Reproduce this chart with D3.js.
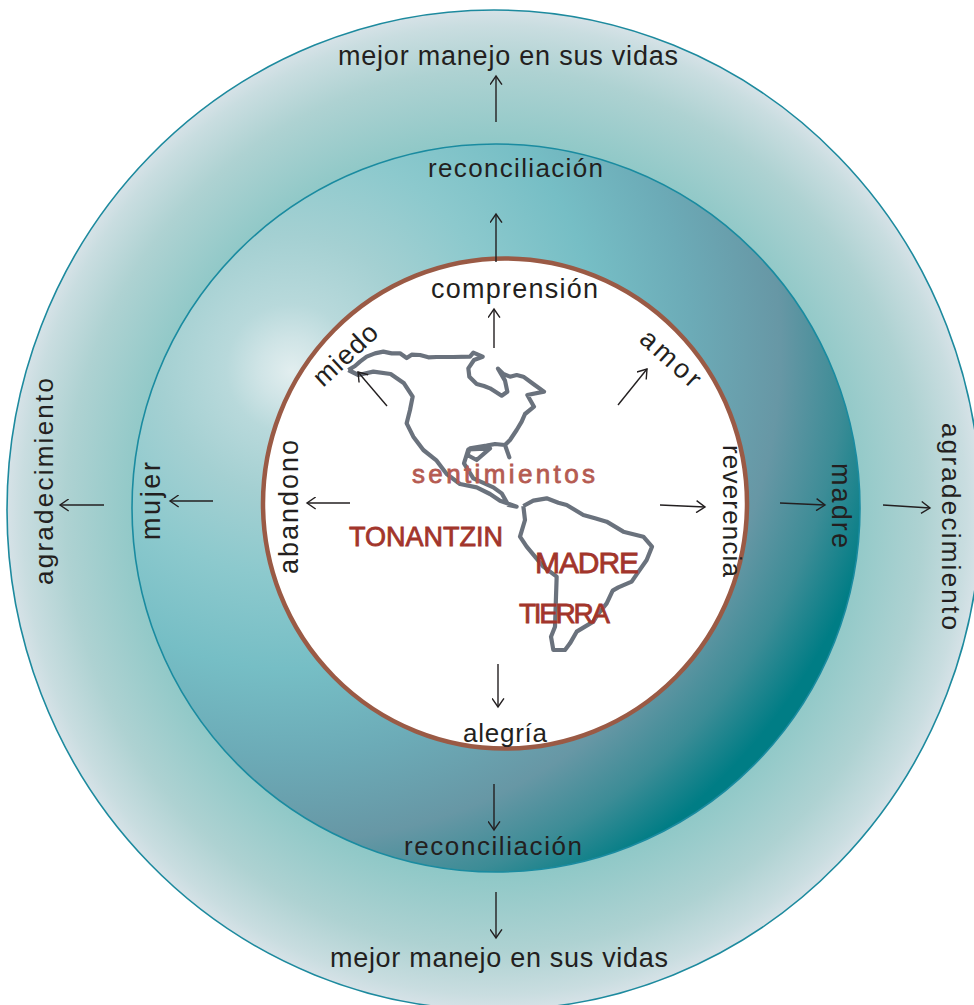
<!DOCTYPE html>
<html><head><meta charset="utf-8">
<script src="https://cdnjs.cloudflare.com/ajax/libs/d3/7.8.5/d3.min.js"></script>
<style>html,body{margin:0;padding:0;background:#fff;overflow:hidden}svg{display:block}text{font-family:"Liberation Sans",Arial,sans-serif}</style>
</head><body>
<script>
// [text, x, y, rotation, length, size]  (x,y = baseline start)
const blackLabels = [
 ["mejor manejo en sus vidas",338,65,0,340,27],
 ["reconciliación",428,177,0,175,26],
 ["comprensión",431,298,0,167,27],
 ["alegría",463,742,0,84,26],
 ["reconciliación",404,855,0,178,26],
 ["mejor manejo en sus vidas",330,967,0,338,27],
 ["agradecimiento",53,585,-90,207,26],
 ["mujer",160,540,-90,78,27],
 ["abandono",298,574,-90,134,27],
 ["madre",832,463,90,85,27],
 ["agradecimiento",942,423,90,207,26],
 ["reverencia",723,445,90,132,26],
 ["amor",638,341,42,72,27],
 ["miedo",323,388,-43,78,27]
];
const redLabels = [
 ["sentimientos",412,483,183,26,"#b55b52"],
 ["TONANTZIN",349,546,154,27,"#a2352b"],
 ["MADRE",535,573,104,30,"#a2352b"],
 ["TIERRA",519,623,91,28,"#a2352b"]
];
const arrows = [
 [496,122,496,76],[496,262,496,214],[494,348,494,309],[618,405,647,369],[387,406,358,372],
 [350,503,307,503],[213,501,170,501],[104,505,60,505],[660,505,705,507],[780,503,825,505],
 [883,505,930,508],[498,664,498,707],[494,784,494,830],[496,892,496,938]
];
const northAmerica = [[265,330],[285,318],[300,305],[320,290],[345,280],[370,275],[395,280],[420,280],[440,294],[455,284],[480,285],[505,292],[530,291],[580,291],[630,290],[640,278],[668,290],[642,300],[625,325],[628,350],[650,372],[672,378],[690,385],[725,407],[742,395],[735,362],[714,326],[730,342],[750,350],[770,345],[790,350],[820,372],[852,395],[802,405],[822,440],[795,462],[785,485],[770,510],[750,540],[735,555],[748,592],[735,555],[705,552],[680,557],[630,565],[622,585],[650,600],[690,565],[625,568],[612,610],[640,655],[700,682],[725,700],[745,735],[770,740],[720,722],[690,702],[650,682],[600,672],[560,642],[530,602],[490,570],[460,530],[440,490],[450,450],[458,410],[432,370],[392,342],[340,335],[295,345],[265,330]];
const southAmerica = [[790,738],[820,722],[860,715],[895,728],[920,735],[970,765],[1005,775],[1040,785],[1090,815],[1150,830],[1176,860],[1160,900],[1132,940],[1115,965],[1075,982],[1058,992],[1040,1030],[1012,1065],[1000,1085],[950,1115],[930,1150],[915,1170],[880,1170],[873,1130],[885,1100],[890,950],[850,920],[800,860],[780,830],[795,780],[790,738]];
const midStops = [[0,"#e2eeef"],[0.05,"#cfe4e6"],[0.1,"#b8d9db"],[0.2,"#a4d0d2"],[0.33,"#8cc9cd"],[0.48,"#76bec5"],[0.62,"#6cabb7"],[0.76,"#6797a5"],[0.86,"#3c8c96"],[0.95,"#007d85"],[1,"#007d85"]];
const outerStops = [[0.73,"#8fc8c7"],[0.88,"#aed2d2"],[0.97,"#c9dde0"],[1,"#d6e2e7"]];

const W=974,H=1005;
const svg=d3.select("body").append("svg").attr("width",W).attr("height",H);
const defs=svg.append("defs");
const addStops=(g,s)=>g.selectAll("stop").data(s).join("stop").attr("offset",d=>d[0]).attr("stop-color",d=>d[1]);

addStops(defs.append("radialGradient").attr("id","outerG").attr("cx",.5).attr("cy",.5).attr("r",.5),outerStops);
addStops(defs.append("radialGradient").attr("id","midG").attr("gradientUnits","userSpaceOnUse").attr("cx",285).attr("cy",340).attr("r",650).attr("fx",292).attr("fy",372),midStops);
const marker=defs.append("marker").attr("id","head").attr("viewBox","-10 -6 12 12").attr("refX",0).attr("refY",0).attr("markerWidth",13).attr("markerHeight",13).attr("markerUnits","userSpaceOnUse").attr("orient","auto");
marker.append("path").attr("d","M-8,-5.5L0,0L-8,5.5").attr("fill","none").attr("stroke","#231f20").attr("stroke-width",1.3);
defs.append("filter").attr("id","soft").append("feGaussianBlur").attr("stdDeviation",0.7);

svg.append("ellipse").attr("cx",494).attr("cy",510).attr("rx",487).attr("ry",500).attr("fill","url(#outerG)").attr("stroke","#1d8a9e").attr("stroke-width",1.6);
svg.append("circle").attr("cx",496).attr("cy",508).attr("r",364).attr("fill","url(#midG)").attr("stroke","#1a8ba0").attr("stroke-width",1.6);
svg.append("ellipse").attr("cx",505).attr("cy",503.5).attr("rx",242).attr("ry",245).attr("fill","#fff").attr("stroke","#9a5a45").attr("stroke-width",4.5);

const sx=d3.scaleLinear().domain([0,1470]).range([260,750]);
const sy=d3.scaleLinear().domain([0,1470]).range([260,750]);
const line=d3.line().x(d=>sx(d[0])).y(d=>sy(d[1]));
svg.append("g").attr("filter","url(#soft)").selectAll("path").data([northAmerica,southAmerica]).join("path")
 .attr("d",line).attr("fill","none").attr("stroke","#6b727d").attr("stroke-width",4.2).attr("stroke-linejoin","round");

svg.append("g").selectAll("line").data(arrows).join("line")
 .attr("x1",d=>d[0]).attr("y1",d=>d[1]).attr("x2",d=>d[2]).attr("y2",d=>d[3])
 .attr("stroke","#231f20").attr("stroke-width",1.4).attr("marker-end","url(#head)");

svg.append("g").selectAll("text").data(blackLabels).join("text").text(d=>d[0])
 .attr("transform",d=>`translate(${d[1]},${d[2]}) rotate(${d[3]})`)
 .attr("textLength",d=>d[4]).attr("lengthAdjust","spacing").attr("font-size",d=>d[5]).attr("fill","#231f20");
svg.append("g").selectAll("text").data(redLabels).join("text").text(d=>d[0])
 .attr("x",d=>d[1]).attr("y",d=>d[2]).attr("textLength",d=>d[3]).attr("lengthAdjust","spacing")
 .attr("font-size",d=>d[4]).attr("fill",d=>d[5]).attr("stroke",d=>d[5]).attr("stroke-width",.8);
</script>
</body></html>
